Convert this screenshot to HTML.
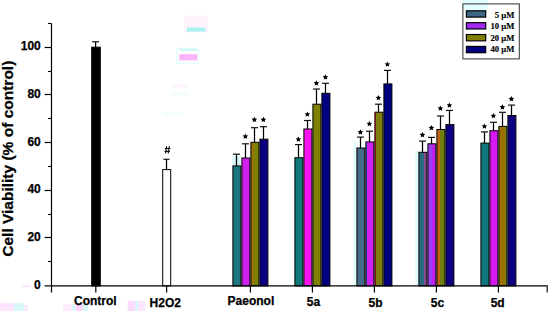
<!DOCTYPE html>
<html><head><meta charset="utf-8"><style>
html,body{margin:0;padding:0;background:#fff;}
body{width:550px;height:311px;overflow:hidden;position:relative;font-family:"Liberation Sans",sans-serif;}
svg{position:absolute;left:0;top:0;}
text{stroke:#000;stroke-width:0.25px;paint-order:stroke;}
.lg text{stroke-width:0.15px;}
</style></head><body>
<svg width="550" height="311" viewBox="0 0 550 311">
<defs><linearGradient id="g1" x1="0" x2="1" y1="0" y2="0"><stop offset="0" stop-color="#987400"/><stop offset="0.4" stop-color="#987400"/><stop offset="0.4" stop-color="#7c8204"/><stop offset="1" stop-color="#7c8204"/></linearGradient><linearGradient id="g2" x1="0" x2="1" y1="0" y2="0"><stop offset="0" stop-color="#4060e0"/><stop offset="0.15" stop-color="#4060e0"/><stop offset="0.15" stop-color="#d020f0"/><stop offset="1" stop-color="#d020f0"/></linearGradient><linearGradient id="g3" x1="0" x2="1" y1="0" y2="0"><stop offset="0" stop-color="#d02020"/><stop offset="0.15" stop-color="#d02020"/><stop offset="0.15" stop-color="#808010"/><stop offset="1" stop-color="#808010"/></linearGradient><linearGradient id="g4" x1="0" x2="1" y1="0" y2="0"><stop offset="0" stop-color="#2a6a80"/><stop offset="0.6" stop-color="#2a6a80"/><stop offset="0.6" stop-color="#884c8c"/><stop offset="1" stop-color="#884c8c"/></linearGradient><linearGradient id="g5" x1="0" x2="1" y1="0" y2="0"><stop offset="0" stop-color="#9a40f0"/><stop offset="0.5" stop-color="#9a40f0"/><stop offset="0.5" stop-color="#c020f0"/><stop offset="1" stop-color="#c020f0"/></linearGradient><linearGradient id="g6" x1="0" x2="1" y1="0" y2="0"><stop offset="0" stop-color="#c06010"/><stop offset="0.35" stop-color="#c06010"/><stop offset="0.35" stop-color="#708010"/><stop offset="1" stop-color="#708010"/></linearGradient><linearGradient id="g7" x1="0" x2="1" y1="0" y2="0"><stop offset="0" stop-color="#9a7000"/><stop offset="0.72" stop-color="#9a7000"/><stop offset="0.72" stop-color="#708818"/><stop offset="1" stop-color="#708818"/></linearGradient></defs>
<rect x="184" y="15.4" width="24" height="17" fill="#fdf3fd"/>
<rect x="187" y="27.6" width="18.4" height="4" fill="#a8f2f2"/>
<rect x="176.4" y="47.6" width="22.2" height="16.4" fill="#e6fcfc"/>
<rect x="178" y="49.5" width="19" height="13" fill="#ffffff"/>
<rect x="180" y="48.8" width="17" height="2.2" fill="#c8f8f8"/>
<rect x="179.3" y="54.2" width="17.8" height="6.2" fill="#fbb4fb"/>
<rect x="171" y="84.5" width="18.6" height="3" fill="#fdf4fd"/>
<rect x="171" y="92" width="18" height="3" fill="#f2fdfd"/>
<rect x="162.5" y="112.5" width="19.3" height="3" fill="#f2fdfd"/>
<rect x="0" y="303" width="14" height="8" fill="#fce4fc"/>
<rect x="14" y="303" width="10" height="8" fill="#d8f8f8"/>
<rect x="24" y="305" width="4" height="6" fill="#fce8fc"/>
<rect x="63" y="304" width="9" height="7" fill="#fcecfc"/>
<rect x="72" y="304" width="3.3" height="7" fill="#d4f8f8"/>
<rect x="75.7" y="304" width="7.3" height="7" fill="#fcd4fc"/>
<rect x="83" y="304" width="5" height="7" fill="#d4f8f8"/>
<rect x="127.7" y="301" width="7.6" height="10" fill="#fcdcfc"/>
<rect x="135.3" y="301" width="3" height="10" fill="#d4f8f8"/>
<rect x="138.3" y="301" width="7" height="10" fill="#fce4fc"/>
<rect x="22" y="285.6" width="7.5" height="1.2" fill="#fcd8fc"/>
<rect x="232.5" y="156" width="8" height="9.5" fill="#d6f8f8"/>
<rect x="353.4" y="142" width="3" height="143.5" fill="#e0fafa"/>
<rect x="415.4" y="150" width="3" height="135.5" fill="#e0fafa"/>
<rect x="91.70" y="47.20" width="8.60" height="238.70" fill="#000" stroke="#000" stroke-width="1"/>
<line x1="95.60" y1="47.20" x2="95.60" y2="41.80" stroke="#000" stroke-width="1.25"/>
<line x1="92.10" y1="41.80" x2="99.10" y2="41.80" stroke="#111" stroke-width="1.2"/>
<rect x="162.70" y="169.60" width="8.00" height="116.30" fill="#fff" stroke="#000" stroke-width="1"/>
<line x1="166.50" y1="169.60" x2="166.50" y2="159.30" stroke="#000" stroke-width="1.25"/>
<line x1="163.50" y1="159.30" x2="169.50" y2="159.30" stroke="#111" stroke-width="1.2"/>
<path d="M166.7 146.1 L165.5 153.4 M169.4 146.1 L168.2 153.4 M164.9 148.5 L170.3 148.5 M164.6 151.3 L169.9 151.3" stroke="#111" stroke-width="1.15" fill="none"/>
<rect x="232.90" y="165.90" width="8.00" height="120.00" fill="#1c7880" stroke="#000" stroke-width="1"/>
<line x1="236.50" y1="165.90" x2="236.50" y2="154.20" stroke="#000" stroke-width="1.25"/>
<line x1="233.00" y1="154.20" x2="240.00" y2="154.20" stroke="#111" stroke-width="1.2"/>
<rect x="241.90" y="158.00" width="8.00" height="127.90" fill="#d020f0" stroke="#000" stroke-width="1"/>
<line x1="245.50" y1="158.00" x2="245.50" y2="143.80" stroke="#000" stroke-width="1.25"/>
<line x1="242.00" y1="143.80" x2="249.00" y2="143.80" stroke="#111" stroke-width="1.2"/>
<polygon points="245.40,133.60 246.25,135.33 248.16,135.60 246.78,136.95 247.10,138.85 245.40,137.95 243.70,138.85 244.02,136.95 242.64,135.60 244.55,135.33" fill="#000"/>
<rect x="250.90" y="142.30" width="8.00" height="143.60" fill="url(#g1)" stroke="#000" stroke-width="1"/>
<line x1="254.50" y1="142.30" x2="254.50" y2="127.70" stroke="#000" stroke-width="1.25"/>
<line x1="251.00" y1="127.70" x2="258.00" y2="127.70" stroke="#111" stroke-width="1.2"/>
<polygon points="254.40,116.80 255.25,118.53 257.16,118.80 255.78,120.15 256.10,122.05 254.40,121.15 252.70,122.05 253.02,120.15 251.64,118.80 253.55,118.53" fill="#000"/>
<rect x="259.90" y="139.20" width="8.00" height="146.70" fill="#0c0080" stroke="#000" stroke-width="1"/>
<line x1="263.50" y1="139.20" x2="263.50" y2="126.70" stroke="#000" stroke-width="1.25"/>
<line x1="260.00" y1="126.70" x2="267.00" y2="126.70" stroke="#111" stroke-width="1.2"/>
<polygon points="263.40,116.80 264.25,118.53 266.16,118.80 264.78,120.15 265.10,122.05 263.40,121.15 261.70,122.05 262.02,120.15 260.64,118.80 262.55,118.53" fill="#000"/>
<rect x="294.90" y="157.70" width="8.00" height="128.20" fill="#127878" stroke="#000" stroke-width="1"/>
<line x1="298.50" y1="157.70" x2="298.50" y2="144.60" stroke="#000" stroke-width="1.25"/>
<line x1="295.00" y1="144.60" x2="302.00" y2="144.60" stroke="#111" stroke-width="1.2"/>
<polygon points="298.40,136.40 299.25,138.13 301.16,138.40 299.78,139.75 300.10,141.65 298.40,140.75 296.70,141.65 297.02,139.75 295.64,138.40 297.55,138.13" fill="#000"/>
<rect x="303.90" y="129.00" width="8.00" height="156.90" fill="#f814f0" stroke="#000" stroke-width="1"/>
<line x1="307.50" y1="129.00" x2="307.50" y2="120.50" stroke="#000" stroke-width="1.25"/>
<line x1="304.00" y1="120.50" x2="311.00" y2="120.50" stroke="#111" stroke-width="1.2"/>
<polygon points="307.40,111.40 308.25,113.13 310.16,113.40 308.78,114.75 309.10,116.65 307.40,115.75 305.70,116.65 306.02,114.75 304.64,113.40 306.55,113.13" fill="#000"/>
<rect x="312.90" y="104.20" width="8.00" height="181.70" fill="#808000" stroke="#000" stroke-width="1"/>
<line x1="316.50" y1="104.20" x2="316.50" y2="89.00" stroke="#000" stroke-width="1.25"/>
<line x1="313.00" y1="89.00" x2="320.00" y2="89.00" stroke="#111" stroke-width="1.2"/>
<polygon points="316.40,80.30 317.25,82.03 319.16,82.30 317.78,83.65 318.10,85.55 316.40,84.65 314.70,85.55 315.02,83.65 313.64,82.30 315.55,82.03" fill="#000"/>
<rect x="321.90" y="93.30" width="8.00" height="192.60" fill="#000080" stroke="#000" stroke-width="1"/>
<line x1="325.50" y1="93.30" x2="325.50" y2="83.30" stroke="#000" stroke-width="1.25"/>
<line x1="322.00" y1="83.30" x2="329.00" y2="83.30" stroke="#111" stroke-width="1.2"/>
<polygon points="325.40,74.30 326.25,76.03 328.16,76.30 326.78,77.65 327.10,79.55 325.40,78.65 323.70,79.55 324.02,77.65 322.64,76.30 324.55,76.03" fill="#000"/>
<rect x="356.90" y="148.00" width="8.00" height="137.90" fill="#466a8a" stroke="#000" stroke-width="1"/>
<line x1="360.50" y1="148.00" x2="360.50" y2="137.10" stroke="#000" stroke-width="1.25"/>
<line x1="357.00" y1="137.10" x2="364.00" y2="137.10" stroke="#111" stroke-width="1.2"/>
<polygon points="360.40,129.30 361.25,131.03 363.16,131.30 361.78,132.65 362.10,134.55 360.40,133.65 358.70,134.55 359.02,132.65 357.64,131.30 359.55,131.03" fill="#000"/>
<rect x="365.90" y="141.90" width="8.00" height="144.00" fill="url(#g2)" stroke="#000" stroke-width="1"/>
<line x1="369.50" y1="141.90" x2="369.50" y2="131.20" stroke="#000" stroke-width="1.25"/>
<line x1="366.00" y1="131.20" x2="373.00" y2="131.20" stroke="#111" stroke-width="1.2"/>
<polygon points="369.40,121.00 370.25,122.73 372.16,123.00 370.78,124.35 371.10,126.25 369.40,125.35 367.70,126.25 368.02,124.35 366.64,123.00 368.55,122.73" fill="#000"/>
<rect x="374.90" y="112.20" width="8.00" height="173.70" fill="url(#g3)" stroke="#000" stroke-width="1"/>
<line x1="378.50" y1="112.20" x2="378.50" y2="104.20" stroke="#000" stroke-width="1.25"/>
<line x1="375.00" y1="104.20" x2="382.00" y2="104.20" stroke="#111" stroke-width="1.2"/>
<polygon points="378.40,95.00 379.25,96.73 381.16,97.00 379.78,98.35 380.10,100.25 378.40,99.35 376.70,100.25 377.02,98.35 375.64,97.00 377.55,96.73" fill="#000"/>
<rect x="383.90" y="83.90" width="8.00" height="202.00" fill="#000080" stroke="#000" stroke-width="1"/>
<line x1="387.50" y1="83.90" x2="387.50" y2="70.40" stroke="#000" stroke-width="1.25"/>
<line x1="384.00" y1="70.40" x2="391.00" y2="70.40" stroke="#111" stroke-width="1.2"/>
<polygon points="387.40,61.50 388.25,63.23 390.16,63.50 388.78,64.85 389.10,66.75 387.40,65.85 385.70,66.75 386.02,64.85 384.64,63.50 386.55,63.23" fill="#000"/>
<rect x="418.90" y="152.30" width="8.00" height="133.60" fill="url(#g4)" stroke="#000" stroke-width="1"/>
<line x1="422.50" y1="152.30" x2="422.50" y2="141.10" stroke="#000" stroke-width="1.25"/>
<line x1="419.00" y1="141.10" x2="426.00" y2="141.10" stroke="#111" stroke-width="1.2"/>
<polygon points="422.40,132.10 423.25,133.83 425.16,134.10 423.78,135.45 424.10,137.35 422.40,136.45 420.70,137.35 421.02,135.45 419.64,134.10 421.55,133.83" fill="#000"/>
<rect x="427.90" y="143.80" width="8.00" height="142.10" fill="url(#g5)" stroke="#000" stroke-width="1"/>
<line x1="431.50" y1="143.80" x2="431.50" y2="137.40" stroke="#000" stroke-width="1.25"/>
<line x1="428.00" y1="137.40" x2="435.00" y2="137.40" stroke="#111" stroke-width="1.2"/>
<polygon points="431.40,125.10 432.25,126.83 434.16,127.10 432.78,128.45 433.10,130.35 431.40,129.45 429.70,130.35 430.02,128.45 428.64,127.10 430.55,126.83" fill="#000"/>
<rect x="436.90" y="129.50" width="8.00" height="156.40" fill="url(#g6)" stroke="#000" stroke-width="1"/>
<line x1="440.50" y1="129.50" x2="440.50" y2="116.00" stroke="#000" stroke-width="1.25"/>
<line x1="437.00" y1="116.00" x2="444.00" y2="116.00" stroke="#111" stroke-width="1.2"/>
<polygon points="440.40,105.60 441.25,107.33 443.16,107.60 441.78,108.95 442.10,110.85 440.40,109.95 438.70,110.85 439.02,108.95 437.64,107.60 439.55,107.33" fill="#000"/>
<rect x="445.90" y="124.60" width="8.00" height="161.30" fill="#0c0080" stroke="#000" stroke-width="1"/>
<line x1="449.50" y1="124.60" x2="449.50" y2="110.40" stroke="#000" stroke-width="1.25"/>
<line x1="446.00" y1="110.40" x2="453.00" y2="110.40" stroke="#111" stroke-width="1.2"/>
<polygon points="449.40,102.40 450.25,104.13 452.16,104.40 450.78,105.75 451.10,107.65 449.40,106.75 447.70,107.65 448.02,105.75 446.64,104.40 448.55,104.13" fill="#000"/>
<rect x="480.90" y="143.10" width="8.00" height="142.80" fill="#127880" stroke="#000" stroke-width="1"/>
<line x1="484.50" y1="143.10" x2="484.50" y2="131.90" stroke="#000" stroke-width="1.25"/>
<line x1="481.00" y1="131.90" x2="488.00" y2="131.90" stroke="#111" stroke-width="1.2"/>
<polygon points="484.40,123.40 485.25,125.13 487.16,125.40 485.78,126.75 486.10,128.65 484.40,127.75 482.70,128.65 483.02,126.75 481.64,125.40 483.55,125.13" fill="#000"/>
<rect x="489.90" y="130.70" width="8.00" height="155.20" fill="#d818f0" stroke="#000" stroke-width="1"/>
<line x1="493.50" y1="130.70" x2="493.50" y2="122.30" stroke="#000" stroke-width="1.25"/>
<line x1="490.00" y1="122.30" x2="497.00" y2="122.30" stroke="#111" stroke-width="1.2"/>
<polygon points="493.40,113.00 494.25,114.73 496.16,115.00 494.78,116.35 495.10,118.25 493.40,117.35 491.70,118.25 492.02,116.35 490.64,115.00 492.55,114.73" fill="#000"/>
<rect x="498.90" y="126.40" width="8.00" height="159.50" fill="url(#g7)" stroke="#000" stroke-width="1"/>
<line x1="502.50" y1="126.40" x2="502.50" y2="112.30" stroke="#000" stroke-width="1.25"/>
<line x1="499.00" y1="112.30" x2="506.00" y2="112.30" stroke="#111" stroke-width="1.2"/>
<polygon points="502.40,104.30 503.25,106.03 505.16,106.30 503.78,107.65 504.10,109.55 502.40,108.65 500.70,109.55 501.02,107.65 499.64,106.30 501.55,106.03" fill="#000"/>
<rect x="507.90" y="115.50" width="8.00" height="170.40" fill="#0c0080" stroke="#000" stroke-width="1"/>
<line x1="511.50" y1="115.50" x2="511.50" y2="105.10" stroke="#000" stroke-width="1.25"/>
<line x1="508.00" y1="105.10" x2="515.00" y2="105.10" stroke="#111" stroke-width="1.2"/>
<polygon points="511.40,96.10 512.25,97.83 514.16,98.10 512.78,99.45 513.10,101.35 511.40,100.45 509.70,101.35 510.02,99.45 508.64,98.10 510.55,97.83" fill="#000"/>
<line x1="51.5" y1="23.4" x2="51.5" y2="292.5" stroke="#000" stroke-width="1.2"/>
<line x1="51.5" y1="285.9" x2="547.8" y2="285.9" stroke="#000" stroke-width="1.3"/>
<line x1="44.6" y1="285.90" x2="51.5" y2="285.90" stroke="#000" stroke-width="1.2"/>
<text x="40.8" y="288.50" text-anchor="end" font-size="12" font-weight="bold" font-family="Liberation Sans">0</text>
<line x1="44.6" y1="237.50" x2="51.5" y2="237.50" stroke="#000" stroke-width="1.2"/>
<text x="40.8" y="240.86" text-anchor="end" font-size="12" font-weight="bold" font-family="Liberation Sans">20</text>
<line x1="44.6" y1="190.50" x2="51.5" y2="190.50" stroke="#000" stroke-width="1.2"/>
<text x="40.8" y="193.22" text-anchor="end" font-size="12" font-weight="bold" font-family="Liberation Sans">40</text>
<line x1="44.6" y1="142.50" x2="51.5" y2="142.50" stroke="#000" stroke-width="1.2"/>
<text x="40.8" y="145.58" text-anchor="end" font-size="12" font-weight="bold" font-family="Liberation Sans">60</text>
<line x1="44.6" y1="94.50" x2="51.5" y2="94.50" stroke="#000" stroke-width="1.2"/>
<text x="40.8" y="97.94" text-anchor="end" font-size="12" font-weight="bold" font-family="Liberation Sans">80</text>
<line x1="44.6" y1="47.50" x2="51.5" y2="47.50" stroke="#000" stroke-width="1.2"/>
<text x="40.8" y="50.30" text-anchor="end" font-size="12" font-weight="bold" font-family="Liberation Sans">100</text>
<line x1="48" y1="261.50" x2="51.5" y2="261.50" stroke="#000" stroke-width="1.1"/>
<line x1="48" y1="214.50" x2="51.5" y2="214.50" stroke="#000" stroke-width="1.1"/>
<line x1="48" y1="166.50" x2="51.5" y2="166.50" stroke="#000" stroke-width="1.1"/>
<line x1="48" y1="118.50" x2="51.5" y2="118.50" stroke="#000" stroke-width="1.1"/>
<line x1="48" y1="71.50" x2="51.5" y2="71.50" stroke="#000" stroke-width="1.1"/>
<line x1="48" y1="23.50" x2="51.5" y2="23.50" stroke="#000" stroke-width="1.1"/>
<line x1="95.8" y1="285.9" x2="95.8" y2="292.5" stroke="#000" stroke-width="1.2"/>
<text x="95.3" y="305.3" text-anchor="middle" font-size="12" font-weight="bold" font-family="Liberation Sans">Control</text>
<line x1="166.6" y1="285.9" x2="166.6" y2="292.5" stroke="#000" stroke-width="1.2"/>
<text x="165.3" y="306.8" text-anchor="middle" font-size="12" font-weight="bold" font-family="Liberation Sans">H2O2</text>
<line x1="250.4" y1="285.9" x2="250.4" y2="292.5" stroke="#000" stroke-width="1.2"/>
<text x="250.9" y="305.2" text-anchor="middle" font-size="12" font-weight="bold" font-family="Liberation Sans">Paeonol</text>
<line x1="312.4" y1="285.9" x2="312.4" y2="292.5" stroke="#000" stroke-width="1.2"/>
<text x="313.5" y="305.8" text-anchor="middle" font-size="12" font-weight="bold" font-family="Liberation Sans">5a</text>
<line x1="374.4" y1="285.9" x2="374.4" y2="292.5" stroke="#000" stroke-width="1.2"/>
<text x="375.5" y="307.2" text-anchor="middle" font-size="12" font-weight="bold" font-family="Liberation Sans">5b</text>
<line x1="436.4" y1="285.9" x2="436.4" y2="292.5" stroke="#000" stroke-width="1.2"/>
<text x="437.5" y="306.9" text-anchor="middle" font-size="12" font-weight="bold" font-family="Liberation Sans">5c</text>
<line x1="498.4" y1="285.9" x2="498.4" y2="292.5" stroke="#000" stroke-width="1.2"/>
<text x="497.7" y="307.4" text-anchor="middle" font-size="12" font-weight="bold" font-family="Liberation Sans">5d</text>
<line x1="547.2" y1="285.9" x2="547.2" y2="292.5" stroke="#000" stroke-width="1.1"/>
<text transform="translate(13,158.7) rotate(-90)" text-anchor="middle" font-size="15.5" font-weight="bold" font-family="Liberation Sans">Cell Viability (% of control)</text>
<g class="lg"><rect x="462.9" y="3.9" width="56.4" height="55" fill="#fff"/>
<rect x="462" y="0" width="26" height="10" fill="#e2fbfb"/>
<rect x="462.9" y="3.9" width="56.4" height="55" fill="none" stroke="#333" stroke-width="1"/>
<rect x="466.4" y="10.80" width="19.3" height="6.3" fill="#3f6686" stroke="#000" stroke-width="1.2"/>
<text x="514.4" y="17.60" text-anchor="end" font-size="8.7" font-weight="bold" font-family="Liberation Serif">5 μM</text>
<rect x="466.4" y="22.67" width="19.3" height="6.3" fill="#a028f0" stroke="#000" stroke-width="1.2"/>
<text x="514.4" y="29.13" text-anchor="end" font-size="8.7" font-weight="bold" font-family="Liberation Serif">10 μM</text>
<rect x="466.4" y="34.54" width="19.3" height="6.3" fill="#808000" stroke="#000" stroke-width="1.2"/>
<text x="514.4" y="40.66" text-anchor="end" font-size="8.7" font-weight="bold" font-family="Liberation Serif">20 μM</text>
<rect x="466.4" y="46.41" width="19.3" height="6.3" fill="#000080" stroke="#000" stroke-width="1.2"/>
<text x="514.4" y="52.19" text-anchor="end" font-size="8.7" font-weight="bold" font-family="Liberation Serif">40 μM</text></g>
</svg>
</body></html>
